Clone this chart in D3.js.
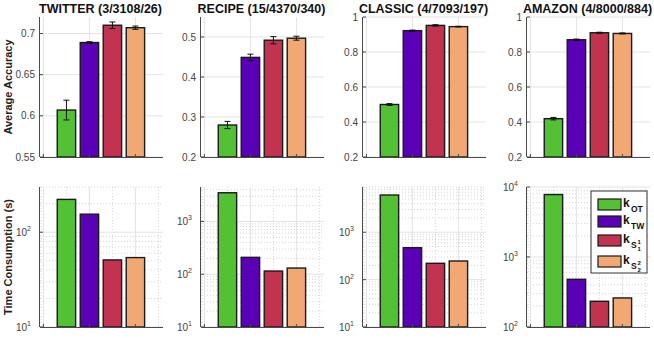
<!DOCTYPE html>
<html>
<head>
<meta charset="utf-8">
<script src="https://cdn.jsdelivr.net/npm/d3@7"></script>
<style>
  body { margin: 0; background: #fff; }
  svg { display: block; font-family: "Liberation Sans", Arial, sans-serif; }
</style>
</head>
<body>
<script>
const titles = ["TWITTER (3/3108/26)", "RECIPE (15/4370/340)", "CLASSIC (4/7093/197)", "AMAZON (4/8000/884)"];
const methods = ["OT", "TW", "S1", "S2"];
const colors = ["#52c134", "#5a00b6", "#c1334e", "#f2a873"];

const accuracy = [
  [0.607, 0.689, 0.710, 0.707],
  [0.280, 0.449, 0.492, 0.497],
  [0.500, 0.922, 0.952, 0.945],
  [0.419, 0.870, 0.910, 0.906]
];
const accError = [
  [0.012, 0.001, 0.004, 0.002],
  [0.009, 0.008, 0.009, 0.005],
  [0.005, 0.003, 0.004, 0.002],
  [0.007, 0.004, 0.003, 0.003]
];
const timeSec = [
  [222, 155, 51, 54],
  [3500, 209, 115, 131],
  [6100, 471, 221, 247],
  [7800, 480, 233, 260]
];
const accDomains = [[0.55, 0.72], [0.2, 0.55], [0.2, 1], [0.2, 1]];
const accTicks = [
  [0.55, 0.6, 0.65, 0.7],
  [0.2, 0.3, 0.4, 0.5],
  [0.2, 0.4, 0.6, 0.8, 1],
  [0.2, 0.4, 0.6, 0.8, 1]
];
const timeDomains = [[10, 300], [10, 4500], [10, 9000], [100, 10000]];

const width = 654, height = 338;
const lefts = [40, 201, 363, 527];
const plotW = 123, plotH = 140;
const tops = [17, 187];

const svg = d3.select("body").append("svg")
    .attr("width", width)
    .attr("height", height);

const gridColor = "#e3e3e3";
const axisColor = "#4a4a4a";

function panel(i, row) {
  const left = lefts[i], top = tops[row];
  const g = svg.append("g").attr("transform", `translate(${left},${top})`);
  const x = d3.scaleLinear().domain([-0.15, 5.2]).range([0, plotW]);
  const isLog = row === 1;
  const y = isLog
    ? d3.scaleLog().domain(timeDomains[i]).range([plotH, 0])
    : d3.scaleLinear().domain(accDomains[i]).range([plotH, 0]);
  const values = isLog ? timeSec[i] : accuracy[i];

  // grid
  if (isLog) {
    const [lo, hi] = timeDomains[i];
    const minor = [];
    for (let e = Math.floor(Math.log10(lo)); e <= Math.ceil(Math.log10(hi)); e++) {
      for (let m = 2; m <= 9; m++) {
        const v = m * Math.pow(10, e);
        if (v > lo && v <= hi) minor.push(v);
      }
    }
    g.selectAll(".minor").data(minor).enter().append("line")
        .attr("x1", 0).attr("x2", plotW)
        .attr("y1", d => y(d)).attr("y2", d => y(d))
        .attr("stroke", "#d6d6d6").attr("stroke-dasharray", "1,2");
    g.selectAll(".vminor").data([-0.1, 1, 3, 5]).enter().append("line")
        .attr("x1", d => x(d)).attr("x2", d => x(d))
        .attr("y1", 0).attr("y2", plotH)
        .attr("stroke", "#d6d6d6").attr("stroke-dasharray", "1,2");
  }
  const majors = isLog ? y.ticks().filter(d => Number.isInteger(Math.log10(d))) : accTicks[i];
  g.selectAll(".hgrid").data(majors).enter().append("line")
      .attr("x1", 0).attr("x2", plotW)
      .attr("y1", d => y(d)).attr("y2", d => y(d))
      .attr("stroke", gridColor);
  g.selectAll(".vgrid").data([0, 2, 4]).enter().append("line")
      .attr("x1", d => x(d)).attr("x2", d => x(d))
      .attr("y1", 0).attr("y2", plotH)
      .attr("stroke", gridColor);

  // bars
  const bw = x(0.8) - x(0);
  const base = y.domain()[0];
  g.selectAll(".bar").data(values).enter().append("rect")
      .attr("x", (d, k) => x(k + 1) - bw / 2)
      .attr("y", d => y(d))
      .attr("width", bw)
      .attr("height", d => y(base) - y(d))
      .attr("fill", (d, k) => colors[k])
      .attr("stroke", "#1a1a1a")
      .attr("stroke-width", 1.4);

  // error bars
  if (!isLog) {
    const eb = g.selectAll(".err").data(values.map((v, k) => ({v, e: accError[i][k], k})))
      .enter().append("g").attr("stroke", "#111").attr("stroke-width", 1);
    eb.append("line")
        .attr("x1", d => x(d.k + 1)).attr("x2", d => x(d.k + 1))
        .attr("y1", d => y(d.v - d.e)).attr("y2", d => y(d.v + d.e));
    [-1, 1].forEach(s => {
      eb.append("line")
          .attr("x1", d => x(d.k + 1) - 3).attr("x2", d => x(d.k + 1) + 3)
          .attr("y1", d => y(d.v + s * d.e)).attr("y2", d => y(d.v + s * d.e));
    });
  }

  // axes lines
  g.append("line").attr("x1", -0.5).attr("x2", -0.5).attr("y1", 0).attr("y2", plotH)
      .attr("stroke", axisColor).attr("stroke-width", 1);
  g.append("line").attr("x1", 0).attr("x2", plotW).attr("y1", plotH + 0.5).attr("y2", plotH + 0.5)
      .attr("stroke", axisColor).attr("stroke-width", 1);
  g.selectAll(".tick").data(majors).enter().append("line")
      .attr("x1", 0).attr("x2", 3)
      .attr("y1", d => y(d)).attr("y2", d => y(d))
      .attr("stroke", axisColor);
  g.selectAll(".xtick").data([0, 2, 4]).enter().append("line")
      .attr("x1", d => x(d)).attr("x2", d => x(d))
      .attr("y1", plotH).attr("y2", plotH - 3)
      .attr("stroke", axisColor);

  // tick labels
  if (isLog) {
    const t = g.selectAll(".tl").data(majors).enter().append("text")
        .attr("x", -9).attr("y", d => y(d) + 4)
        .attr("text-anchor", "end")
        .attr("font-size", 10).attr("fill", "#444");
    t.append("tspan").text("10");
    t.append("tspan").attr("dy", -5).attr("font-size", 7).text(d => Math.round(Math.log10(d)));
  } else {
    g.selectAll(".tl").data(majors).enter().append("text")
        .attr("x", -5).attr("y", d => y(d) + 3.5)
        .attr("text-anchor", "end")
        .attr("font-size", 10).attr("fill", "#444")
        .text(d => String(d));
  }

  if (row === 0) {
    svg.append("text")
        .attr("x", left + plotW / 2 - 1).attr("y", 13)
        .attr("text-anchor", "middle")
        .attr("font-size", 12.5).attr("font-weight", "bold").attr("fill", "#111")
        .text(titles[i]);
  }
}

for (let i = 0; i < 4; i++) { panel(i, 0); panel(i, 1); }

svg.append("text")
    .attr("transform", "translate(12,87) rotate(-90)")
    .attr("text-anchor", "middle")
    .attr("font-size", 11).attr("font-weight", "bold").attr("fill", "#222")
    .text("Average Accuracy");
svg.append("text")
    .attr("transform", "translate(12,257) rotate(-90)")
    .attr("text-anchor", "middle")
    .attr("font-size", 11).attr("font-weight", "bold").attr("fill", "#222")
    .text("Time Consumption (s)");

// legend
const lg = svg.append("g").attr("transform", "translate(591,191)");
lg.append("rect").attr("width", 56).attr("height", 82)
    .attr("fill", "#fff").attr("stroke", "#333").attr("stroke-width", 1);
const rowsY = [8, 25, 44, 65];
const item = lg.selectAll(".item").data(methods).enter().append("g")
    .attr("transform", (d, k) => `translate(7,${rowsY[k]})`);
item.append("rect").attr("width", 23).attr("height", 11)
    .attr("fill", (d, k) => colors[k]).attr("stroke", "#1a1a1a").attr("stroke-width", 1.2);
item.append("text").attr("x", 25).attr("y", 8)
    .attr("font-size", 12).attr("font-weight", "bold").attr("fill", "#111").text("k");
item.filter(d => d === "OT" || d === "TW").append("text")
    .attr("x", 33).attr("y", 13).attr("font-size", 8.5).attr("font-weight", "bold").attr("fill", "#111")
    .text(d => d);
const sItems = item.filter(d => d[0] === "S");
sItems.append("text").attr("x", 33).attr("y", 13)
    .attr("font-size", 8.5).attr("font-weight", "bold").attr("fill", "#111").text("S");
sItems.append("text").attr("x", 39.5).attr("y", 9)
    .attr("font-size", 6).attr("font-weight", "bold").attr("fill", "#111").text(d => d[1]);
sItems.append("text").attr("x", 39.5).attr("y", 16)
    .attr("font-size", 6).attr("font-weight", "bold").attr("fill", "#111").text(d => d[1]);
</script>
</body>
</html>
